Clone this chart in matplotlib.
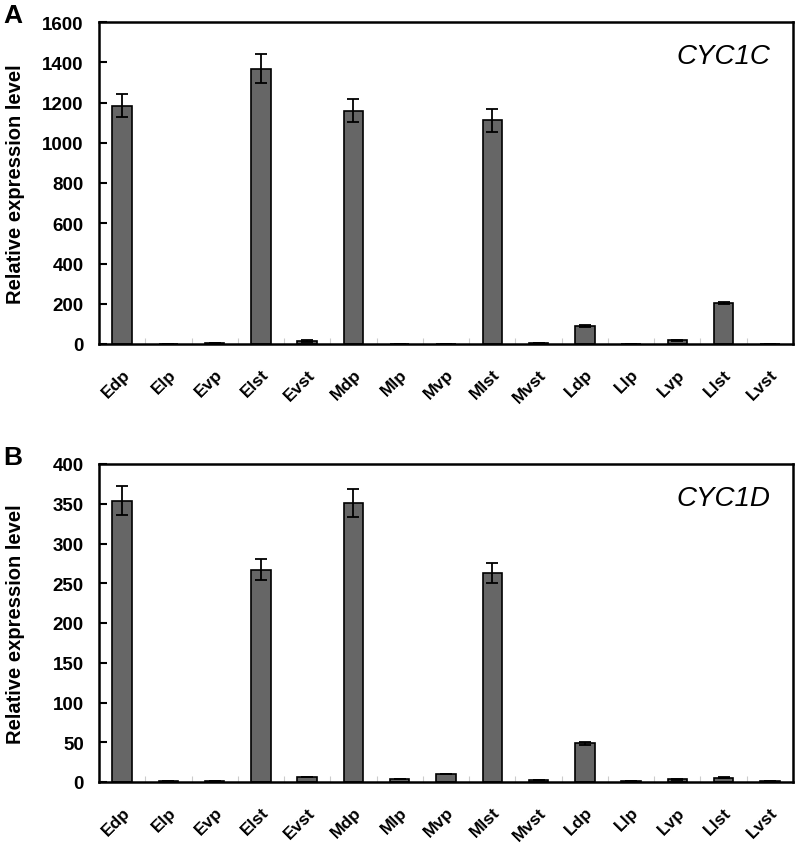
import matplotlib
matplotlib.use('Agg')
import matplotlib.pyplot as plt # http://matplotlib.org/
import matplotlib.transforms as mtransforms
import numpy as np # http://www.numpy.org/

plt.rcParams['font.family'] = ['Liberation Sans', 'DejaVu Sans']

tissues = ['Edp', 'Elp', 'Evp', 'Elst', 'Evst', 'Mdp', 'Mlp', 'Mvp',
           'Mlst', 'Mvst', 'Ldp', 'Llp', 'Lvp', 'Llst', 'Lvst']

# CYC1C (panel A)
cyc1c = [1185, 0.5, 3, 1368, 15, 1160, 0.5, 0.5, 1112, 3, 87, 2, 19, 204, 2]
cyc1c_err = [57, 0, 0, 72, 3, 58, 0, 0, 58, 0, 5, 0, 3, 7, 0]

# CYC1D (panel B)
cyc1d = [354, 1, 1, 267, 6.5, 351, 3.8, 9.6, 263, 2, 48.5, 1.5, 3.5, 5.5, 1]
cyc1d_err = [18, 0, 0, 13, 0, 18, 0, 0, 13, 0, 2, 0, 0.5, 0.5, 0]

fig = plt.figure(figsize=(7.97, 8.45), dpi=100)
W, H = 797.0, 845.0

panels = [
    ('A', 'CYC1C', cyc1c, cyc1c_err, 1600, 200, (23, 345)),
    ('B', 'CYC1D', cyc1d, cyc1d_err, 400, 50, (465, 783)),
]

x = np.arange(len(tissues))
for letter, gene, vals, errs, ymax, step, (top, bottom) in panels:
    ax = fig.add_axes([99 / W, 1 - bottom / H, (793 - 99) / W, (bottom - top) / H])
    ax.bar(x, vals, width=0.42, color='#666666', edgecolor='black', linewidth=1.2, zorder=2)
    ax.errorbar(x, vals, yerr=errs, fmt='none', ecolor='black', elinewidth=1.3,
                capsize=4, capthick=1.3, zorder=3)
    ax.set_xlim(-0.5, len(tissues) - 0.5)
    ax.set_ylim(0, ymax)
    ax.set_yticks(np.arange(0, ymax + 1, step))
    ax.set_xticks(x)
    ax.set_xticklabels(tissues, rotation=45, ha='right', va='top',
                       rotation_mode='anchor', fontweight='bold', fontsize=12.5)
    shift = mtransforms.ScaledTranslation(-7 / 100, 0, fig.dpi_scale_trans)
    for lab in ax.get_xticklabels():
        lab.set_transform(lab.get_transform() + shift)
    ax.set_xticks(np.arange(0.5, len(tissues) - 1, 1), minor=True)
    ax.tick_params(axis='x', which='major', length=0, pad=16)
    ax.tick_params(axis='x', which='minor', direction='in', length=4, color='#cccccc', width=0.8)
    ax.tick_params(axis='y', direction='in', length=6, width=1.5, pad=11)
    for lab in ax.get_yticklabels():
        lab.set_fontweight('bold')
        lab.set_fontsize(13.5)
    for s in ax.spines.values():
        s.set_linewidth(1.8)
    ax.set_ylabel('Relative expression level', fontweight='bold', fontsize=14.5)
    ax.yaxis.set_label_coords(-74 / (793 - 99), 0.5)
    ax.text(0.967, 0.894, gene, transform=ax.transAxes, ha='right', va='center',
            fontsize=20, style='italic')
    fig.text(3 / W, 1 - (top - 7) / H, letter, fontsize=19, fontweight='bold',
             ha='left', va='center')

fig.savefig('out.png', dpi=100)
